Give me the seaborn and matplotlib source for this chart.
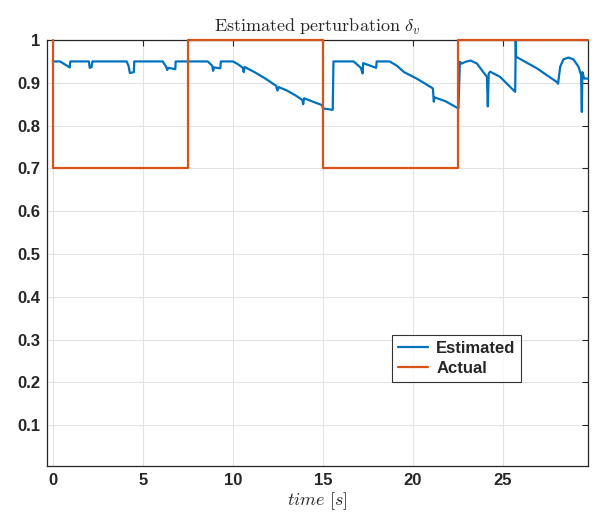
import numpy as np
import pandas as pd
import matplotlib
matplotlib.use("Agg")
import matplotlib.pyplot as plt
import seaborn as sns

# Estimated perturbation
est_t = [0.0, 0.4, 0.94, 0.97, 2.0, 2.05, 2.15, 2.2, 4.1, 4.2, 4.28, 4.5, 4.52,
         6.1, 6.3, 6.35, 6.4, 6.8, 6.82, 8.6, 8.85, 8.9, 8.95, 9.3, 9.33,
         10.0, 10.3, 10.55, 10.6, 10.65, 11.2, 11.8, 12.4, 12.47, 12.55, 13.0,
         13.5, 13.85, 13.9, 13.95, 14.5, 14.95, 15.0, 15.54, 15.58,
         16.7, 17.1, 17.2, 17.23, 17.5, 17.95, 17.98, 18.7, 19.1, 19.45, 19.5,
         20.2, 21.1, 21.15, 21.2, 21.8, 22.52, 22.6, 22.7, 22.9, 23.2, 23.55,
         23.9, 24.1, 24.15, 24.2, 24.28, 24.83, 25.57, 25.67, 25.7, 25.72,
         26.87, 27.98, 28.05, 28.17, 28.35, 28.63, 28.9, 29.18, 29.33, 29.37,
         29.4, 29.5, 29.7]
est_v = [0.95, 0.95, 0.936, 0.95, 0.95, 0.935, 0.937, 0.95, 0.95, 0.94, 0.923, 0.925, 0.95,
         0.95, 0.937, 0.93, 0.935, 0.932, 0.95, 0.95, 0.94, 0.928, 0.936, 0.934, 0.95,
         0.95, 0.943, 0.935, 0.925, 0.937, 0.925, 0.91, 0.893, 0.882, 0.89, 0.882,
         0.87, 0.86, 0.85, 0.864, 0.855, 0.848, 0.84, 0.837, 0.95,
         0.95, 0.935, 0.922, 0.946, 0.942, 0.935, 0.95, 0.95, 0.94, 0.927, 0.925,
         0.91, 0.887, 0.856, 0.866, 0.857, 0.84, 0.949, 0.945, 0.949, 0.952, 0.945,
         0.925, 0.914, 0.845, 0.922, 0.926, 0.914, 0.883, 0.879, 1.0, 0.961,
         0.934, 0.902, 0.898, 0.938, 0.955, 0.959, 0.955, 0.938, 0.918, 0.832,
         0.925, 0.91, 0.91]

# Actual perturbation (step signal corners)
act_t = [0.0, 0.0, 7.5, 7.5, 15.0, 15.0, 22.5, 22.5, 29.7]
act_v = [1.0, 0.7, 0.7, 1.0, 1.0, 0.7, 0.7, 1.0, 1.0]

y_ticks = [0.1, 0.2, 0.3, 0.4, 0.5, 0.6, 0.7, 0.8, 0.9, 1.0]
y_tick_labels = ["0.1", "0.2", "0.3", "0.4", "0.5", "0.6", "0.7", "0.8", "0.9", "1"]
x_ticks = [0, 5, 10, 15, 20, 25]

est = pd.DataFrame({"t": est_t, "v": est_v})
act = pd.DataFrame({"t": act_t, "v": act_v})

sns.set_style("white")
plt.rcParams["font.family"] = ["Liberation Sans", "DejaVu Sans"]
plt.rcParams["mathtext.fontset"] = "cm"

fig = plt.figure(figsize=(6.01, 5.2), dpi=100)
ax = fig.add_axes([0.078, 0.104, 0.900, 0.819])

sns.lineplot(data=est, x="t", y="v", ax=ax, color="#0072BD", lw=1.6,
             sort=False, estimator=None, label="Estimated", clip_on=False, zorder=3)
sns.lineplot(data=act, x="t", y="v", ax=ax, color="#D95319", lw=1.6,
             sort=False, estimator=None, label="Actual", clip_on=False, zorder=4)

ax.set_xlim(-0.33, 29.7)
ax.set_ylim(0.005, 1.0)
ax.set_xticks(x_ticks)
ax.set_xticklabels([str(x) for x in x_ticks], fontweight="bold", fontsize=12)
ax.set_yticks(y_ticks)
ax.set_yticklabels(y_tick_labels, fontweight="bold", fontsize=12)
ax.tick_params(direction="in", length=4, width=0.8, top=True, right=True, pad=5)
ax.grid(True, color="#e3e3e3", lw=0.8)
for s in ax.spines.values():
    s.set_color("#262626")
    s.set_linewidth(0.9)

ax.set_title(r"$\mathrm{Estimated\ perturbation}\ \delta_v$", fontsize=13, pad=6)
ax.set_xlabel(r"$time\ [s]$", fontsize=13, labelpad=2)
ax.set_ylabel("")

leg = ax.legend(loc="upper left", bbox_to_anchor=(0.638, 0.307), borderaxespad=0,
                prop={"weight": "bold", "size": 12}, frameon=True, fancybox=False,
                handlelength=1.8, borderpad=0.35, labelspacing=0.3, handletextpad=0.5)
leg.get_frame().set_edgecolor("black")
leg.get_frame().set_linewidth(0.8)

fig.savefig("out.png", dpi=100)
